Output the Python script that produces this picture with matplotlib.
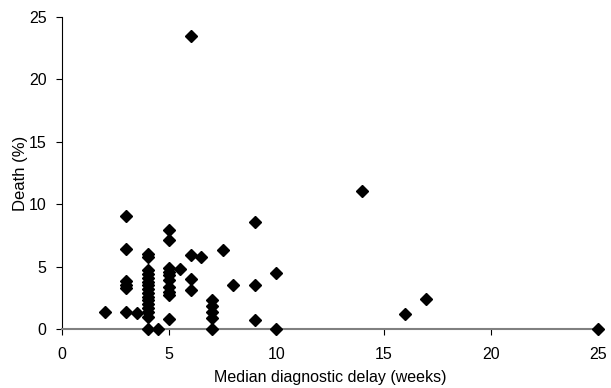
import matplotlib
matplotlib.use("Agg")
import matplotlib.pyplot as plt

# median diagnostic delay (weeks) vs death (%)
delay = [2,
         3, 3, 3, 3, 3, 3,
         3.5,
         4, 4, 4, 4, 4, 4, 4, 4, 4, 4, 4, 4, 4, 4, 4, 4,
         4.5,
         5, 5, 5, 5, 5, 5, 5, 5, 5, 5,
         5.5,
         6, 6, 6, 6,
         6.5,
         7, 7, 7, 7, 7,
         7.5, 8,
         9, 9, 9,
         10, 10,
         14, 16, 17, 25]
death = [1.4,
         9.05, 6.45, 3.85, 3.55, 3.3, 1.4,
         1.3,
         6.0, 5.8, 4.7, 4.4, 4.1, 3.8, 3.5, 3.2, 2.9, 2.6, 2.3, 2.0, 1.7, 1.4, 1.0, 0.0,
         0.0,
         7.95, 7.1, 4.9, 4.6, 4.3, 3.9, 3.4, 3.0, 2.7, 0.8,
         4.85,
         23.5, 5.9, 4.0, 3.1,
         5.75,
         2.3, 1.85, 1.4, 0.9, 0.0,
         6.3, 3.55,
         8.6, 3.5, 0.7,
         4.5, 0.0,
         11.1, 1.2, 2.4, 0.0]

plt.rcParams['font.family'] = ['Liberation Sans', 'DejaVu Sans']

fig = plt.figure(figsize=(6.11, 3.88), dpi=100)
ax = fig.add_axes([0.1015, 0.152, 0.877, 0.804])

ax.plot(delay, death, 'D', color='black', markersize=6, ls='none', clip_on=False, zorder=3)

ax.set_xlim(0, 25)
ax.set_ylim(0, 25)
ax.set_xticks([0, 5, 10, 15, 20, 25])
ax.set_yticks([0, 5, 10, 15, 20, 25])

ax.spines['top'].set_visible(False)
ax.spines['right'].set_visible(False)
ax.spines['bottom'].set_color('#808080')
ax.spines['bottom'].set_linewidth(1.5)
ax.spines['left'].set_linewidth(0.8)
ax.tick_params(axis='both', direction='out', length=4, width=0.8, labelsize=11.5, colors='black')
ax.tick_params(axis='x', pad=9)
ax.tick_params(axis='y', pad=7)

ax.set_xlabel('Median diagnostic delay (weeks)', fontsize=11.5, labelpad=6)
ax.set_ylabel('Death (%)', fontsize=12, labelpad=1)

fig.savefig('out.png', dpi=100)
